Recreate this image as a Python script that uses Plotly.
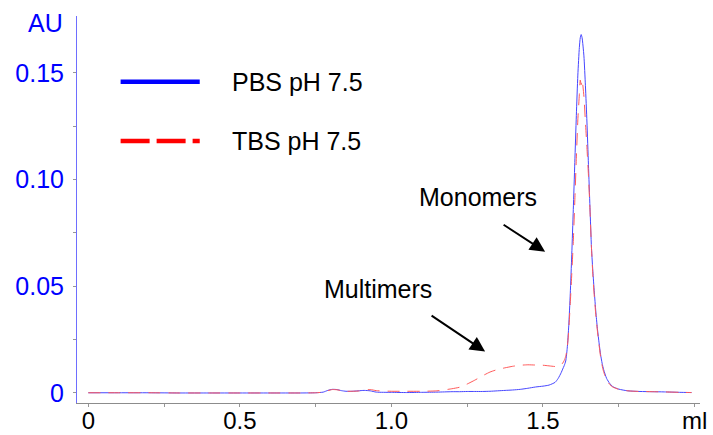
import plotly.graph_objects as go

# Elution volume (ml) shared by both runs
volume_ml = [0.00, 0.10, 0.20, 0.30, 0.40, 0.50, 0.60, 0.70, 0.75, 0.775, 0.79, 0.805, 0.82, 0.835,
             0.85, 0.87, 0.89, 0.91, 0.93, 0.95, 1.00, 1.05, 1.10, 1.15, 1.20, 1.225, 1.25, 1.275,
             1.30, 1.325, 1.35, 1.375, 1.40, 1.425, 1.45, 1.475, 1.50, 1.52, 1.54, 1.55, 1.56,
             1.565, 1.57, 1.575, 1.58, 1.585, 1.59, 1.595, 1.60, 1.605, 1.61, 1.615, 1.62, 1.623,
             1.626, 1.629, 1.635, 1.64, 1.645, 1.65, 1.655, 1.66, 1.665, 1.67, 1.675, 1.68, 1.685,
             1.69, 1.695, 1.70, 1.71, 1.72, 1.73, 1.75, 1.78, 1.82, 1.86, 1.90, 1.95, 1.99]

# Absorbance (AU), PBS pH 7.5
pbs_au = [0.0001, 0.0001, 0.0001, 0.0000, 0.0000, 0.0000, 0.0000, 0.0000, 0.0001, 0.0004, 0.0012,
          0.0017, 0.0016, 0.0011, 0.0008, 0.0008, 0.0010, 0.0012, 0.0010, 0.0004, 0.0003, 0.0002,
          0.0003, 0.0004, 0.0006, 0.0006, 0.0007, 0.0007, 0.0007, 0.0008, 0.0010, 0.0012, 0.0014,
          0.0017, 0.0022, 0.0028, 0.0032, 0.0037, 0.0050, 0.0068, 0.0095, 0.0112, 0.0128, 0.0150,
          0.0210, 0.0315, 0.0465, 0.0650, 0.0860, 0.1080, 0.1300, 0.1490, 0.1620, 0.1665, 0.1680,
          0.1665, 0.1580, 0.1440, 0.1270, 0.1070, 0.0870, 0.0680, 0.0560, 0.0460, 0.0370, 0.0295,
          0.0235, 0.0180, 0.0140, 0.0110, 0.0068, 0.0045, 0.0030, 0.0018, 0.0010, 0.0007, 0.0006,
          0.0005, 0.0003, 0.0002]

# Absorbance (AU), TBS pH 7.5
tbs_au = [0.0001, 0.0001, 0.0001, 0.0000, 0.0000, 0.0000, 0.0000, 0.0000, 0.0001, 0.0004, 0.0011,
          0.0016, 0.0015, 0.0011, 0.0008, 0.0008, 0.0009, 0.0013, 0.0016, 0.0011, 0.0008, 0.0008,
          0.0008, 0.0010, 0.0020, 0.0027, 0.0042, 0.0060, 0.0080, 0.0098, 0.0110, 0.0118, 0.0125,
          0.0130, 0.0132, 0.0131, 0.0130, 0.0127, 0.0124, 0.0125, 0.0132, 0.0140, 0.0152, 0.0172,
          0.0210, 0.0295, 0.0420, 0.0560, 0.0710, 0.0900, 0.1100, 0.1280, 0.1400, 0.1467, 0.1445,
          0.1467, 0.1390, 0.1270, 0.1150, 0.1020, 0.0860, 0.0680, 0.0540, 0.0440, 0.0355, 0.0285,
          0.0225, 0.0170, 0.0130, 0.0100, 0.0060, 0.0040, 0.0028, 0.0017, 0.0010, 0.0007, 0.0006,
          0.0005, 0.0003, 0.0002]

series_names = ["PBS pH 7.5", "TBS pH 7.5"]

x_tick_vals = [0, 0.25, 0.5, 0.75, 1.0, 1.25, 1.5, 1.75, 2.0]
x_tick_text = ["0", "", "0.5", "", "1.0", "", "1.5", "", "ml"]
y_tick_vals = [0, 0.025, 0.05, 0.075, 0.10, 0.125, 0.15]
y_tick_text = ["0", "", "0.05", "", "0.10", "", "0.15"]

FONT = "Liberation Sans, Arial, sans-serif"
BLUE = "rgb(70,70,255)"
RED = "rgb(255,90,90)"

fig = go.Figure()
fig.add_trace(go.Scatter(x=volume_ml, y=pbs_au, mode="lines", name=series_names[0],
                         line=dict(color=BLUE, width=1, shape="spline", smoothing=0.6),
                         showlegend=False))
fig.add_trace(go.Scatter(x=volume_ml, y=tbs_au, mode="lines", name=series_names[1],
                         line=dict(color=RED, width=1, dash="12px,8px", shape="spline", smoothing=0.6),
                         showlegend=False))

# Legend keys: thick sample lines with labels
legend_rows = [(0.830, "rgb(0,0,255)", "solid"), (0.677, "rgb(255,0,0)", "29px,7px")]
for (ypos, col, dash), name in zip(legend_rows, series_names):
    fig.add_shape(type="line", xref="paper", yref="paper", x0=0.070, x1=0.197, y0=ypos, y1=ypos,
                  line=dict(color=col, width=4.5, dash=dash))
    fig.add_annotation(xref="paper", yref="paper", x=0.2456, y=ypos, text=name, showarrow=False,
                       xanchor="left", yanchor="middle", font=dict(family=FONT, size=25, color="black"))

# Peak labels with arrows
fig.add_annotation(x=1.507, y=0.0662, ax=-43, ay=-28, text="", showarrow=True,
                   arrowhead=2, arrowsize=1.5, arrowwidth=2, arrowcolor="black")
fig.add_annotation(x=1.2867, y=0.0919, text="Monomers", showarrow=False,
                   font=dict(family=FONT, size=25, color="black"))
fig.add_annotation(x=1.309, y=0.0194, ax=-55, ay=-37, text="", showarrow=True,
                   arrowhead=2, arrowsize=1.5, arrowwidth=2, arrowcolor="black")
fig.add_annotation(x=0.9568, y=0.0488, text="Multimers", showarrow=False,
                   font=dict(family=FONT, size=25, color="black"))

# Y-axis unit label
fig.add_annotation(xref="paper", yref="paper", x=-0.020, y=0.983, text="AU", showarrow=False,
                   xanchor="right", yanchor="middle", font=dict(family=FONT, size=25, color="blue"))

fig.update_layout(
    width=713, height=435,
    margin=dict(l=77, r=13, t=16, b=32, autoexpand=False),
    plot_bgcolor="white", paper_bgcolor="white",
    font=dict(family=FONT, size=24, color="black"),
)
fig.update_xaxes(range=[-0.0373, 2.018], tickvals=x_tick_vals, ticktext=x_tick_text,
                 showgrid=False, zeroline=False, showline=True, linecolor="rgb(140,140,140)",
                 linewidth=1, ticks="outside", ticklen=3, tickcolor="rgb(150,150,150)",
                 tickfont=dict(family=FONT, size=24, color="black"), automargin=False,
                 ticklabelstandoff=-7)
fig.update_yaxes(range=[-0.0047, 0.1767], tickvals=y_tick_vals, ticktext=y_tick_text,
                 showgrid=False, zeroline=False, showline=True, linecolor="rgb(110,110,255)",
                 linewidth=1, ticks="outside", ticklen=3, tickcolor="rgb(150,150,150)",
                 tickfont=dict(family=FONT, size=25, color="blue"), ticklabelstandoff=4,
                 automargin=False)

fig.write_html("out.html")
